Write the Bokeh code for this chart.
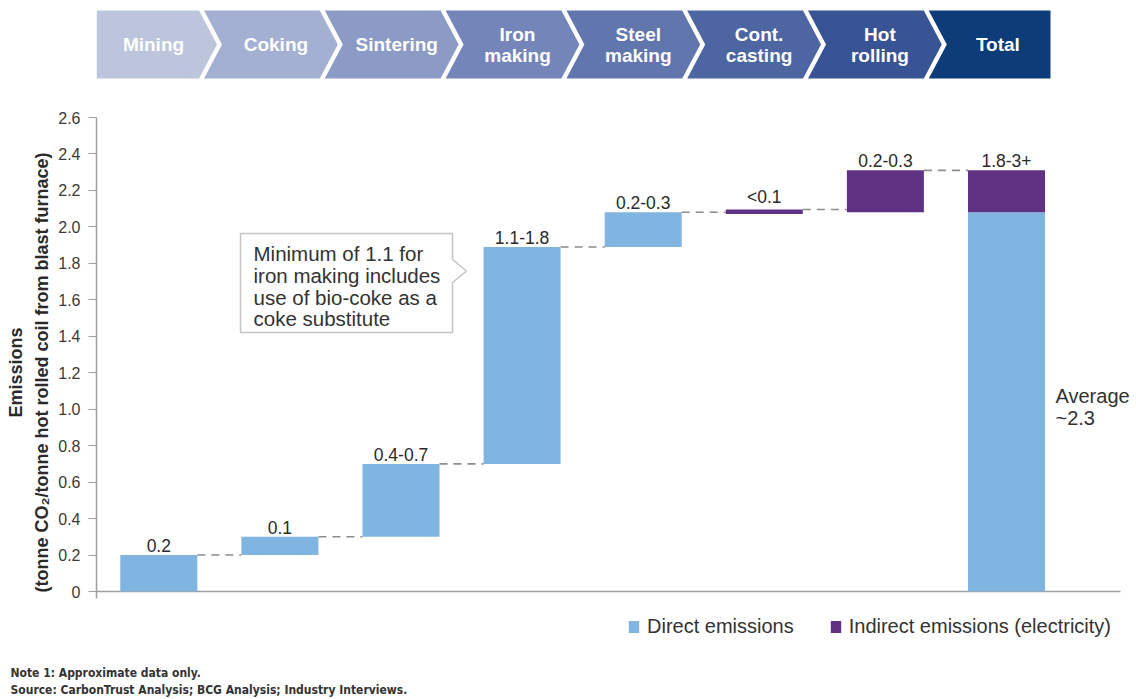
from bokeh.plotting import figure
from bokeh.models import (Range1d, FixedTicker, CustomJSTickFormatter, Legend, LegendItem, Title)
from bokeh.core.properties import value
from bokeh.embed import file_html
from bokeh.resources import INLINE

# ---------------- data ----------------
stages = ["Mining", "Coking", "Sintering", "Iron\nmaking", "Steel\nmaking",
          "Cont.\ncasting", "Hot\nrolling", "Total"]
step_bottom = [0.0, 0.2, 0.3, 0.7, 1.89, 2.07, 2.08]
step_top = [0.2, 0.3, 0.7, 1.89, 2.08, 2.095, 2.31]
step_kind = ["direct", "direct", "direct", "direct", "direct", "indirect", "indirect"]
step_labels = ["0.2", "0.1", "0.4-0.7", "1.1-1.8", "0.2-0.3", "<0.1", "0.2-0.3"]
total_direct = 2.08
total_indirect = 0.23
total_label = "1.8-3+"
total_note = ["Average", "~2.3"]
callout_lines = ["Minimum of 1.1 for", "iron making includes",
                 "use of bio-coke as a", "coke substitute"]
y_ticks = [0, 0.2, 0.4, 0.6, 0.8, 1.0, 1.2, 1.4, 1.6, 1.8, 2.0, 2.2, 2.4, 2.6]
y_title = ["Emissions", "(tonne CO\u2082/tonne hot rolled coil from blast furnace)"]
legend_labels = ["Direct emissions", "Indirect emissions (electricity)"]
notes = ["Note 1: Approximate data only.",
         "Source: CarbonTrust Analysis; BCG Analysis; Industry Interviews."]

# ---------------- styles / layout ----------------
BLUE = "#80b5e1"
PURPLE = "#603284"
kind_color = {"direct": BLUE, "indirect": PURPLE}
header_colors = ["#bcc5dc", "#a3b0d1", "#8c9bc5", "#7486b9", "#6176ad",
                 "#4d65a0", "#385494", "#0d3c79"]
FONT = "Liberation Sans"
W, H = 1136, 699
FRAME_LEFT = 96
FOOT = 36                  # bottom border holding the footnotes
FRAME_H = H - FOOT
PX_PER_X = 121.1           # pixels per category step
X0_PX = 158.3              # pixel centre of first category
Y0_PX, Y26_PX = 591, 117   # pixel rows of y=0 and y=2.6
PX_PER_Y = (Y0_PX - Y26_PX) / 2.6

x_start = -(X0_PX - FRAME_LEFT) / PX_PER_X
x_end = x_start + (W - FRAME_LEFT) / PX_PER_X
y_start = -(FRAME_H - Y0_PX) / PX_PER_Y
y_end = 2.6 + Y26_PX / PX_PER_Y


def dx(px):
    return x_start + (px - FRAME_LEFT) / PX_PER_X


def dy(py):
    return (Y0_PX - py) / PX_PER_Y


p = figure(width=W, height=H, x_range=Range1d(x_start, x_end), y_range=Range1d(y_start, y_end),
           output_backend="svg", toolbar_location=None,
           min_border_left=FRAME_LEFT, min_border_right=0, min_border_top=0,
           min_border_bottom=FOOT, x_axis_location=None)
p.grid.visible = False
p.outline_line_color = None

# ---------------- y axis ----------------
ax = p.yaxis[0]
ax.bounds = (-0.04, 2.6)
ax.ticker = FixedTicker(ticks=y_ticks)
ax.formatter = CustomJSTickFormatter(code="return tick == 0 ? '0' : tick.toFixed(1);")
ax.minor_tick_line_color = None
ax.axis_line_color = "#a0a0a0"
ax.axis_line_width = 1.5
ax.major_tick_line_color = "#a0a0a0"
ax.major_tick_line_width = 1.2
ax.major_tick_out = 8
ax.major_tick_in = 0
ax.major_label_standoff = 8
ax.major_label_text_font = FONT
ax.major_label_text_font_size = "16px"
ax.major_label_text_color = "#3a3a3a"

# axis title: two vertical lines, both centred near pixel row 373
for txt, so, off in zip(reversed(y_title), [8, 0], [71, 246]):
    p.add_layout(Title(text=txt, align="left", offset=off, standoff=so,
                       text_font=FONT, text_font_size="18px", text_font_style="bold",
                       text_color="#2a2a2a"), "left")

# baseline
p.segment(x0=[dx(FRAME_LEFT)], y0=[0], x1=[dx(1120)], y1=[0],
          line_color="#a0a0a0", line_width=1.5)

# ---------------- header chevrons ----------------
top, bot, mid = 10, 78, 44
a, g = 9, 5
bounds = [96] + [89.2 + 120.8 * i for i in range(1, len(stages))] + [1050]
cxs, cys = [], []
tx, ty, tt = [], [], []
for i, s in enumerate(stages):
    bl, br = bounds[i], bounds[i + 1]
    if i == 0:
        left = [(bl, top), (bl, mid), (bl, bot)]
    else:
        left = [(bl - a + g / 2, top), (bl + a + g / 2, mid), (bl - a + g / 2, bot)]
    if i == len(stages) - 1:
        right = [(br, top), (br, mid), (br, bot)]
    else:
        right = [(br - a - g / 2, top), (br + a - g / 2, mid), (br - a - g / 2, bot)]
    pts = [left[0], right[0], right[1], right[2], left[2], left[1]]
    cxs.append([dx(q[0]) for q in pts])
    cys.append([dy(q[1]) for q in pts])
    cx = (bl + br) / 2 + (0 if i == 0 else 5)
    lines = s.split("\n")
    n = len(lines)
    for k, ln in enumerate(lines):
        tx.append(dx(cx))
        ty.append(dy(mid + (k - (n - 1) / 2) * 21))
        tt.append(ln)
p.patches(cxs, cys, fill_color=header_colors, line_color=None)
p.text(tx, ty, text=tt, text_align="center", text_baseline="middle",
       text_color="white", text_font=value(FONT), text_font_style="bold",
       text_font_size="19px")

# ---------------- bars ----------------
bw = 0.636
idx = list(range(len(step_top)))
p.vbar(x=idx, bottom=step_bottom, top=step_top, width=bw,
       fill_color=[kind_color[k] for k in step_kind], line_color=None)
ti = len(stages) - 1
r_direct = p.vbar(x=[ti], bottom=[0], top=[total_direct], width=bw,
                  fill_color=BLUE, line_color=None)
r_ind = p.vbar(x=[ti], bottom=[total_direct], top=[total_direct + total_indirect],
               width=bw, fill_color=PURPLE, line_color=None)

# dashed connectors
p.segment(x0=[i + bw / 2 for i in idx], y0=step_top,
          x1=[i + 1 - bw / 2 for i in idx], y1=step_top,
          line_color="#8c8c8c", line_width=1.6, line_dash="8 6")

# value labels
p.text(x=idx + [ti], y=step_top + [total_direct + total_indirect],
       text=step_labels + [total_label], text_align="center", text_baseline="bottom",
       y_offset=-3, text_font=value(FONT), text_font_size="17.5px", text_color="#2a2a2a")

# ---------------- callout ----------------
bx0, bx1, tip = dx(240), dx(452), dx(466)
by_top, by_bot = dy(233), dy(332)
ay1, ay2, aym = dy(259), dy(282), dy(270.5)
p.patch([bx0, bx1, bx1, tip, bx1, bx1, bx0],
        [by_top, by_top, ay1, aym, ay2, by_bot, by_bot],
        fill_color="white", line_color="#c4c4c4", line_width=1.5)
p.text(x=[dx(253)] * 4, y=[dy(253), dy(275), dy(297), dy(318)], text=callout_lines,
       text_align="left", text_baseline="middle", text_font=value(FONT),
       text_font_size="20.5px", text_color="#333333")

# average note
p.text(x=[dx(1055)] * 2, y=[dy(395), dy(417)], text=total_note, text_align="left",
       text_baseline="middle", text_font=value(FONT), text_font_size="20px",
       text_color="#333333")

# ---------------- legend ----------------
leg = Legend(items=[LegendItem(label=legend_labels[0], renderers=[r_direct]),
                    LegendItem(label=legend_labels[1], renderers=[r_ind])],
             orientation="horizontal", location=(627 - FRAME_LEFT, 61 - FOOT),
             glyph_width=13, glyph_height=15, label_standoff=7, spacing=35,
             padding=0, margin=0, border_line_color=None, background_fill_alpha=0,
             label_text_font=FONT, label_text_font_size="20px",
             label_text_color="#333333", label_height=15)
p.add_layout(leg)

# ---------------- footnotes ----------------
for txt, so in zip(notes, [0, 2]):
    p.add_layout(Title(text=txt, align="left", offset=10 - FRAME_LEFT, standoff=so,
                       text_font="DejaVu Sans Condensed", text_font_size="12px",
                       text_font_style="bold", text_color="#333333"), "below")

open("out.html", "w").write(file_html(p, INLINE))
